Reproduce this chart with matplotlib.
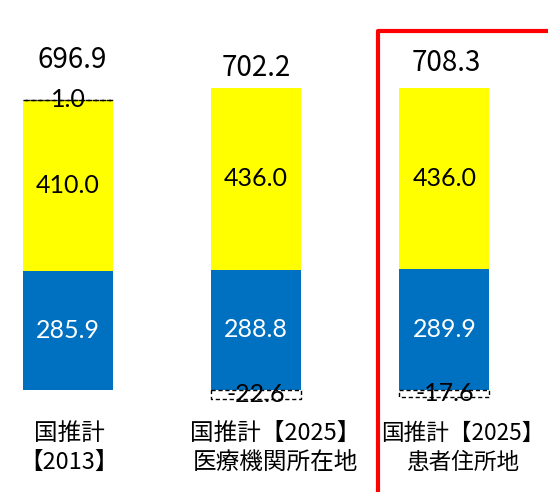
import matplotlib
matplotlib.use("Agg")
import matplotlib.pyplot as plt
from matplotlib import font_manager as fm
from matplotlib.patches import Rectangle

# ---- data ----
categories = ["国推計\n【2013】", "国推計【2025】\n医療機関所在地", "国推計【2025】\n患者住所地"]
blue_vals = [285.9, 288.8, 289.9]
yellow_vals = [410.0, 436.0, 436.0]
adjust_vals = [1.0, -22.6, -17.6]
total_vals = [696.9, 702.2, 708.3]

# ---- style ----
BLUE = "#0070C0"
YELLOW = "#FFFF00"
names = {f.name for f in fm.fontManager.ttflist}
inner_font = "Lato" if "Lato" in names else "DejaVu Sans"
cjk = ["Noto Sans CJK JP", "DejaVu Sans"]

total_offsets_pt = [28.5, 14.5, 17.5]   # label offset above bar top (points)
total_dx_pt = [3, 0, 1]
cat_dx_px = [1, 19, 18]                 # category label offsets (pixels)
cat_size = [17, 17, 16.3]

fig = plt.figure(figsize=(5.48, 4.92), dpi=100)
ax = fig.add_axes([0, 0, 1, 1])
ax.axis("off")
ax.set_xlim(-0.361, 2.550)
ax.set_ylim(-244.8, 936)

x = list(range(len(categories)))
w = 0.478

ax.bar(x, blue_vals, width=w, color=BLUE, zorder=2)
ax.bar(x, yellow_vals, width=w, bottom=blue_vals, color=YELLOW, zorder=2)

for i, adj in enumerate(adjust_vals):
    bottom = blue_vals[i] + yellow_vals[i] if adj >= 0 else 0
    ax.bar(x[i], adj, width=w, bottom=bottom, facecolor="white" if adj < 0 else "none",
           edgecolor="black", linestyle=(0, (3, 2)), linewidth=1.0, zorder=3)
    ax.text(x[i], bottom + adj / 2, f"{adj:.1f}", ha="center", va="center",
            fontsize=18, family=inner_font, color="black", zorder=4)

for i in x:
    ax.text(x[i], blue_vals[i] / 2, f"{blue_vals[i]:.1f}", ha="center", va="center",
            fontsize=18, family=inner_font, color="white", zorder=4)
    ax.text(x[i], blue_vals[i] + yellow_vals[i] / 2, f"{yellow_vals[i]:.1f}",
            ha="center", va="center", fontsize=18, family=inner_font, color="black", zorder=4)
    top = blue_vals[i] + yellow_vals[i] + max(adjust_vals[i], 0)
    ax.annotate(f"{total_vals[i]:.1f}", (x[i], top),
                xytext=(total_dx_pt[i], total_offsets_pt[i]),
                textcoords="offset points", ha="center", va="center",
                fontsize=20, family=cjk, color="black")

for i, c in enumerate(categories):
    ax.annotate(c, (x[i], 1 - 448 / 492), xycoords=("data", "axes fraction"),
                xytext=(cat_dx_px[i] * 0.72, 0), textcoords="offset points",
                ha="center", va="center", fontsize=cat_size[i], family=cjk,
                linespacing=1.3, annotation_clip=False)

rect = Rectangle((377.5 / 548, -0.2), 0.6, 1.2 - 31 / 492, transform=fig.transFigure,
                 fill=False, edgecolor="#FF0000", linewidth=3.0, joinstyle="round",
                 clip_on=False, zorder=10)
fig.patches.append(rect)

fig.savefig("out.png", dpi=100)
